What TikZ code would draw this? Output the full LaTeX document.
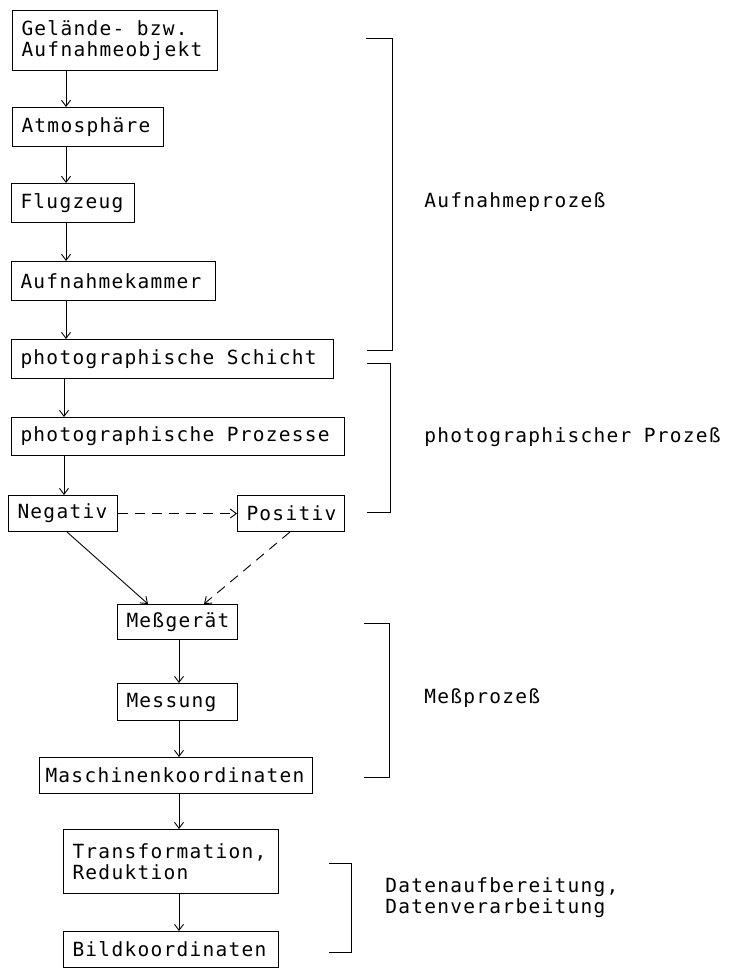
\documentclass[tikz,border=0pt]{standalone}
\usepackage{fontspec}
\setmainfont{DejaVu Sans Mono}[LetterSpace=6.5]
\usetikzlibrary{arrows.meta,calc}
\newcommand\wgap{\hspace{12.5pt}}
\begin{document}
\begin{tikzpicture}[x=1pt,y=-1pt,
  line width=0.9pt,
  font=\fontsize{19.5}{21}\selectfont,
  box/.style={draw, anchor=north west, align=left, inner xsep=9pt, inner ysep=0pt, line width=1pt},
  arr/.style={-{Straight Barb[length=6pt,width=9pt,line width=0.9pt]}},
  dsh/.style={dash pattern=on 10pt off 7pt},
  brk/.style={line width=1pt},
  lab/.style={anchor=west, align=left, inner sep=0pt}
]
\useasboundingbox (0,0) rectangle (729,968);
\hyphenpenalty=10000

% boxes
\node[box, text width=187pt, minimum height=60pt] (G) at (12,10) {Gelände-\wgap bzw.\\Aufnahmeobjekt};
\node[box, text width=133pt, minimum height=39pt] (A) at (12,107) {Atmosphäre};
\node[box, text width=105pt, minimum height=39pt] (F) at (11,183) {Flugzeug};
\node[box, text width=186pt, minimum height=39pt] (K) at (11,261) {Aufnahmekammer};
\node[box, text width=304pt, minimum height=39pt] (S) at (11,339) {photographische\wgap Schicht};
\node[box, text width=315pt, minimum height=38pt] (P) at (11,417) {photographische\wgap Prozesse};
\node[box, text width=91pt, minimum height=36pt] (N) at (8,495) {Negativ};
\node[box, text width=89pt, minimum height=36pt] (Po) at (237,495) {Positiv};
\node[box, text width=102pt, minimum height=35pt] (Mg) at (117,604) {Meßgerät};
\node[box, text width=102pt, minimum height=37pt] (Ms) at (117,683) {Messung};
\node[box, text width=261pt, minimum height=36pt, inner xsep=6pt] (Mk) at (39,757) {Maschinenkoordinaten};
\node[box, text width=197pt, minimum height=64pt] (T) at (63,829) {Transformation,\\Reduktion};
\node[box, text width=197pt, minimum height=36pt] (B) at (63,931) {Bildkoordinaten};

% columns for the vertical connectors
\coordinate (c1) at (66,0);
\coordinate (c2) at (64,0);
\coordinate (c3) at (179,0);
\coordinate (nb) at (67,0);
\coordinate (pb) at (290,0);
\coordinate (m1) at (148,0);
\coordinate (m2) at (204,0);

\draw[arr] (G.south -| c1) -- (A.north -| c1);
\draw[arr] (A.south -| c1) -- (F.north -| c1);
\draw[arr] (F.south -| c1) -- (K.north -| c1);
\draw[arr] (K.south -| c1) -- (S.north -| c1);
\draw[arr] (S.south -| c2) -- (P.north -| c2);
\draw[arr] (P.south -| c2) -- (N.north -| c2);
\draw[arr,dsh] (N.east) -- (Po.west);
\draw[arr] (N.south -| nb) -- (Mg.north -| m1);
\draw[arr,dsh] (Po.south -| pb) -- (Mg.north -| m2);
\draw[arr] (Mg.south -| c3) -- (Ms.north -| c3);
\draw[arr] (Ms.south -| c3) -- (Mk.north -| c3);
\draw[arr] (Mk.south -| c3) -- (T.north -| c3);
\draw[arr] (T.south -| c3) -- (B.north -| c3);

% brackets
\draw[brk] (366,39) -- (392,39) -- (392,350) -- (367,350);
\draw[brk] (367,363) -- (390,363) -- (390,512) -- (367,512);
\draw[brk] (364,623) -- (389,623) -- (389,777) -- (364,777);
\draw[brk] (329,863) -- (351,863) -- (351,952) -- (329,952);

% labels
\node[lab] (L1) at (424,202) {Aufnahmeprozeß};
\node[lab] (L2) at (424,437) {photographischer\wgap Prozeß};
\node[lab] (L3) at (424,698) {Meßprozeß};
\node[lab] (L4) at (385,898) {Datenaufbereitung,\\Datenverarbeitung};
\end{tikzpicture}
\end{document}
